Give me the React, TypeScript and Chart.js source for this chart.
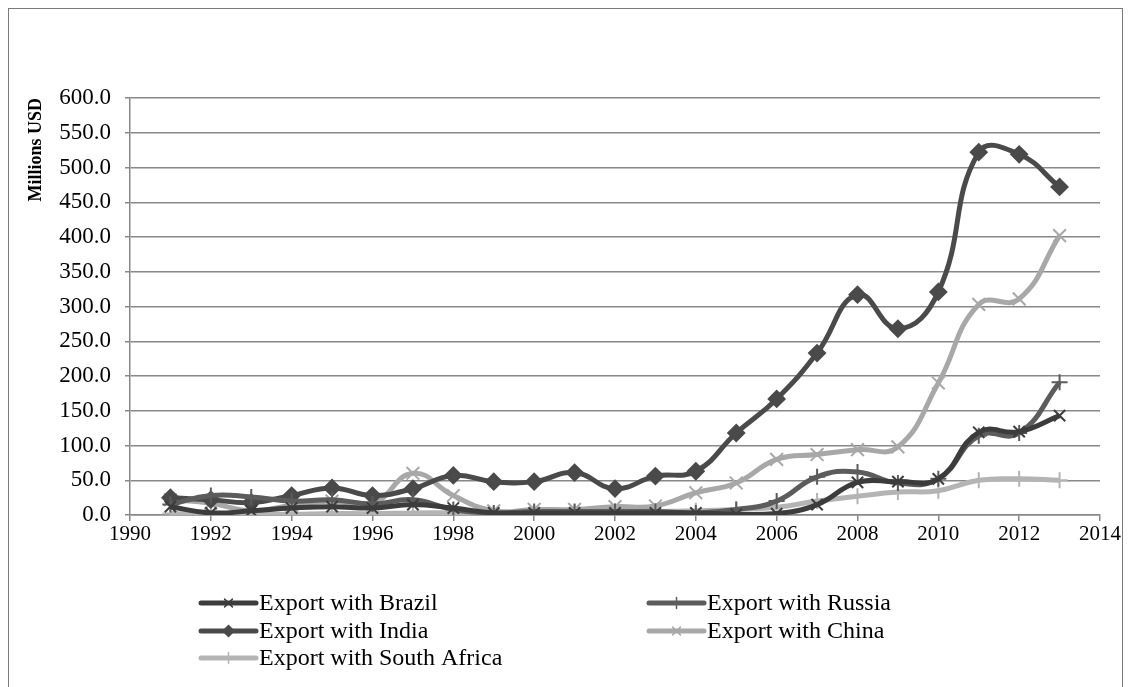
import React, { useEffect, useRef } from "react";
import { Chart, registerables } from "chart.js";
import { drawPoint } from "chart.js/helpers";

Chart.register(...registerables);

const years = [1991, 1992, 1993, 1994, 1995, 1996, 1997, 1998, 1999, 2000, 2001, 2002, 2003, 2004, 2005, 2006, 2007, 2008, 2009, 2010, 2011, 2012, 2013];
const brazil = [12, 3, 6, 10, 12, 10, 15, 10, 3, 3, 3, 3, 3, 3, 1, 2, 15, 47, 48, 52, 119, 120, 143];
const russia = [15, 28, 26, 20, 22, 16, 22, 8, 3, 5, 5, 5, 5, 3, 8, 20, 55, 62, 46, 52, 114, 118, 191];
const india = [25, 22, 18, 28, 39, 28, 38, 57, 48, 48, 61, 38, 56, 63, 118, 167, 233, 317, 268, 321, 522, 519, 472];
const china = [22, 17, 6, 14, 20, 16, 60, 28, 6, 8, 8, 12, 13, 32, 46, 80, 87, 94, 98, 190, 303, 311, 402];
const southAfrica = [2, 1, 1, 1, 2, 2, 3, 3, 2, 3, 4, 5, 5, 6, 8, 11, 20, 27, 33, 35, 50, 52, 50];

const seriesNames = ["Export with Brazil", "Export with Russia", "Export with India", "Export with China", "Export with South Africa"];
const yTitle = "Millions USD";

const FONT = "'Liberation Serif', 'Times New Roman', serif";

const legendPlugin = {
  id: "customLegend",
  afterDraw(chart: any) {
    const ctx = chart.ctx;
    const cols = [192, 640];
    const rows = [594, 622, 649];
    const slots = [[0, 0], [1, 0], [0, 1], [1, 1], [0, 2]];
    chart.data.datasets.forEach((ds: any, i: number) => {
      const [c, r] = slots[i];
      const x = cols[c];
      const y = rows[r];
      ctx.save();
      ctx.strokeStyle = ds.borderColor;
      ctx.lineWidth = 5;
      ctx.lineCap = "round";
      ctx.beginPath();
      ctx.moveTo(x, y);
      ctx.lineTo(x + 55, y);
      ctx.stroke();
      ctx.fillStyle = ds.pointBackgroundColor;
      ctx.strokeStyle = ds.pointBorderColor;
      ctx.lineWidth = 1.5;
      drawPoint(ctx, { pointStyle: ds.pointStyle, rotation: 0, radius: 5.5, borderWidth: 1.5 } as any, x + 27.5, y);
      ctx.fillStyle = "#000";
      ctx.font = `24px ${FONT}`;
      ctx.textBaseline = "middle";
      ctx.textAlign = "left";
      ctx.fillText(ds.label, x + 58, y + 1);
      ctx.restore();
    });
  },
};

function mk(label: string, vals: number[], color: string, style: string, radius: number) {
  return {
    label,
    data: years.map((yr, i) => ({ x: yr, y: vals[i] })),
    borderColor: color,
    backgroundColor: color,
    pointBackgroundColor: color,
    pointBorderColor: color,
    pointStyle: style,
    pointRadius: radius,
    pointBorderWidth: 2,
    borderWidth: 5,
    tension: 0.45,
    fill: false,
  };
}

export default function App() {
  const ref = useRef<HTMLCanvasElement>(null);
  useEffect(() => {
    if (!ref.current) return;
    const chart = new Chart(ref.current, {
      type: "line",
      data: {
        datasets: [
          mk(seriesNames[0], brazil, "#3c3c3c", "crossRot", 8),
          mk(seriesNames[1], russia, "#5c5c5c", "cross", 8),
          mk(seriesNames[2], india, "#4a4a4a", "rectRot", 8),
          mk(seriesNames[3], china, "#a8a8a8", "crossRot", 9),
          mk(seriesNames[4], southAfrica, "#b4b4b4", "cross", 8),
        ] as any,
      },
      options: {
        animation: false,
        responsive: true,
        maintainAspectRatio: false,
        layout: { padding: { top: 89, left: 0, right: 22, bottom: 154 } },
        plugins: { legend: { display: false }, tooltip: { enabled: false } },
        scales: {
          x: {
            type: "linear",
            min: 1990,
            max: 2014,
            afterFit: (s: any) => { s.height = 40; },
            ticks: {
              stepSize: 2,
              color: "#000",
              font: { family: FONT, size: 21 },
              padding: 1,
              maxRotation: 0,
              callback: (v: any) => String(v),
            },
            grid: { display: true, drawOnChartArea: false, drawTicks: true, tickLength: 6, color: "#888", lineWidth: 1.5 },
            border: { display: true, color: "#888", width: 1.5 },
          },
          y: {
            min: 0,
            max: 600,
            afterFit: (s: any) => { s.width = 121; },
            ticks: {
              stepSize: 50,
              color: "#000",
              font: { family: FONT, size: 23 },
              padding: 14,
              callback: (v: any) => Number(v).toFixed(1),
            },
            grid: { color: "#888", lineWidth: 1.5, tickLength: 5 },
            border: { display: true, color: "#888", width: 1.5 },
            title: {
              display: true,
              text: yTitle,
              align: "end",
              color: "#000",
              font: { family: FONT, size: 18, weight: "bold" },
              padding: { top: 17, bottom: 0 },
            },
          },
        },
      } as any,
      plugins: [legendPlugin],
    });
    return () => chart.destroy();
  }, []);
  return (
    <div style={{ width: 1113, height: 700, border: "1px solid #7a7a7a", position: "relative" }}>
      <canvas ref={ref} />
    </div>
  );
}
